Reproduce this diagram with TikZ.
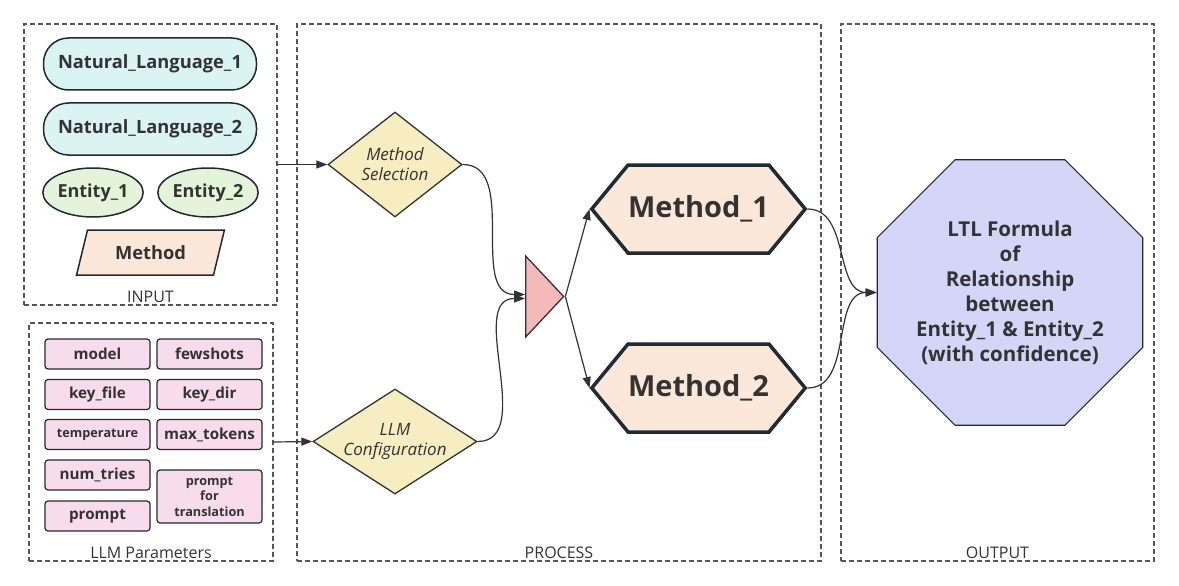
\documentclass[tikz,border=0pt]{standalone}
\usepackage{fontspec}
\setmainfont{Open Sans}
\usetikzlibrary{shapes.geometric,shapes.symbols,arrows.meta}
\definecolor{ink}{HTML}{1F2A33}
\definecolor{txt}{HTML}{333333}
\definecolor{framegray}{HTML}{555555}
\definecolor{nlfill}{HTML}{DAF3F3}
\definecolor{entfill}{HTML}{E4F4DA}
\definecolor{methfill}{HTML}{FCE8D8}
\definecolor{parfill}{HTML}{F9DCEB}
\definecolor{decfill}{HTML}{F6EDC1}
\definecolor{trifill}{HTML}{F4B9B9}
\definecolor{octfill}{HTML}{D3D6F7}
\tikzset{
FRAME/.style={draw=framegray,dash pattern=on 5pt off 3pt,line width=1.3pt,inner sep=0},
FRAMETEXT/.style={anchor=south,inner sep=2.5pt,text=txt,font=\fontsize{16}{18}\selectfont},
PILL/.style={draw=ink,line width=1.5pt,fill=nlfill,rounded corners=25pt,minimum width=213pt,minimum height=52pt,text=txt,font=\bfseries\fontsize{18.3}{21}\selectfont},
ENTITY/.style={ellipse,draw=ink,line width=1.5pt,fill=entfill,minimum width=98pt,minimum height=49pt,inner sep=0,text=txt,font=\bfseries\fontsize{18}{21}\selectfont},
PARA/.style={trapezium,trapezium left angle=72,trapezium right angle=108,trapezium stretches=true,draw=ink,line width=1.5pt,fill=methfill,minimum width=149pt,minimum height=45pt,text=txt,font=\bfseries\fontsize{18.3}{21}\selectfont},
PARAM/.style={draw=ink,line width=1.2pt,fill=parfill,rounded corners=3pt,minimum width=105pt,minimum height=30pt,inner sep=0,align=center,text=txt,font=\bfseries\fontsize{15.2}{17}\selectfont},
DECIDE/.style={diamond,draw=txt,line width=1.3pt,fill=decfill,minimum height=105pt,inner sep=0,align=center,text=txt,font=\itshape\fontsize{17}{20}\selectfont},
MERGE/.style={isosceles triangle,isosceles triangle stretches=true,draw=txt,line width=1.3pt,fill=trifill,minimum width=81pt,minimum height=38pt,inner sep=0},
HEX/.style={signal,signal to=east and west,signal pointer angle=101,draw=ink,line width=3.5pt,fill=methfill,inner xsep=0pt,minimum width=212pt,minimum height=88pt,text=txt,font=\bfseries\fontsize{29}{32}\selectfont},
OCT/.style={regular polygon,regular polygon sides=8,draw=ink,line width=1.2pt,fill=octfill,minimum size=281pt,inner sep=0,align=center,text=txt,font=\bfseries\fontsize{20.5}{25}\selectfont},
LINK/.style={draw=txt,line width=1.2pt,-{Triangle[length=11pt,width=8pt]}},
}
\begin{document}
\begin{tikzpicture}[x=1pt,y=-1pt]
	\useasboundingbox (0,0) rectangle (1179,586);
	\node[FRAME,minimum width=253pt,minimum height=281pt,label={[FRAMETEXT]south:INPUT}] (inbox) at (150.5,164.5) {};
	\node[FRAME,minimum width=244pt,minimum height=238pt,label={[FRAMETEXT]south:LLM Parameters}] (llmbox) at (151,442) {};
	\node[FRAME,minimum width=524pt,minimum height=537pt,label={[FRAMETEXT]south:PROCESS}] (procbox) at (559,292.5) {};
	\node[FRAME,minimum width=313pt,minimum height=537pt,label={[FRAMETEXT]south:OUTPUT}] (outbox) at (997.5,292.5) {};
	\node[PILL] (nl1) at (150,64) {Natural\_Language\_1};
	\node[PILL] (nl2) at (150,129) {Natural\_Language\_2};
	\node[ENTITY] (ent1) at (93,192.5) {Entity\_1};
	\node[ENTITY] (ent2) at (208,192.5) {Entity\_2};
	\node[PARA] (meth) at (150.5,252.5) {Method};
	\node[PARAM] (model) at (97.5,354) {model};
	\node[PARAM] (shots) at (209.5,354) {fewshots};
	\node[PARAM] (keyf) at (97.5,394.5) {key\_file};
	\node[PARAM] (keyd) at (209.5,394.5) {key\_dir};
	\node[PARAM,font=\bfseries\fontsize{12.7}{15}\selectfont] (temp) at (97.5,434.5) {temperature};
	\node[PARAM] (maxtok) at (209.5,434.5) {max\_tokens};
	\node[PARAM] (tries) at (97.5,475) {num\_tries};
	\node[PARAM] (prompt) at (97.5,516) {prompt};
	\node[PARAM,minimum height=53pt,font=\bfseries\fontsize{12.7}{15.5}\selectfont] (trans) at (209.5,496.5) {prompt\\for\\translation};
	\node[DECIDE,minimum width=134pt,aspect=1.28] (msel) at (395,164.5) {Method\\Selection};
	\node[DECIDE,minimum width=164pt,aspect=1.56] (lcfg) at (395,441.5) {LLM\\Configuration};
	\node[MERGE,anchor=lower side] (join) at (525,296.5) {};
	\node[HEX] (m1) at (698.5,209) {Method\_1};
	\node[HEX] (m2) at (698.5,388) {Method\_2};
	\node[OCT] (ltl) at (1010,292.5) {LTL Formula\\of\\Relationship\\between\\Entity\_1 \& Entity\_2\\(with confidence)};
	\path[LINK] (inbox.east) -- (msel.west);
	\path[LINK] (llmbox.east) -- (lcfg.west);
	\path[LINK] (msel.east) to[out=0,in=180] ([yshift=2pt]join.lower side);
	\path[LINK] (lcfg.east) to[out=0,in=180] ([yshift=-2pt]join.lower side);
	\path[LINK] (join.apex) -- (m1.west);
	\path[LINK] (join.apex) -- (m2.west);
	\path[LINK] (m1.east) to[out=0,in=180] (ltl.west);
	\path[LINK] (m2.east) to[out=0,in=180] (ltl.west);
\end{tikzpicture}
\end{document}
